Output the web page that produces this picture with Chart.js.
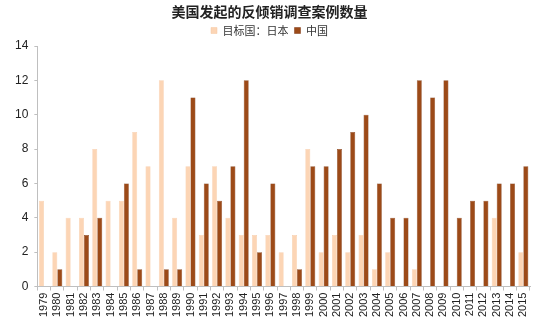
<!DOCTYPE html>
<html>
<head>
<meta charset="utf-8">
<script src="https://cdn.jsdelivr.net/npm/chart.js@4"></script>
<style>
  html,body{margin:0;padding:0;background:#fff;}
  #wrap{width:550px;height:326px;position:relative;}
</style>
</head>
<body>
<div id="wrap"><canvas id="chart"></canvas></div>
<script>
// Anti-dumping cases initiated by the US, per year
const years=['1979','1980','1981','1982','1983','1984','1985','1986','1987','1988','1989','1990','1991','1992','1993','1994','1995','1996','1997','1998','1999','2000','2001','2002','2003','2004','2005','2006','2007','2008','2009','2010','2011','2012','2013','2014','2015'];
const japan=[5,2,4,4,8,5,5,9,7,12,4,7,3,7,4,3,3,3,2,3,8,2,3,2,3,1,2,0,1,0,0,0,0,0,4,0,2];
const china=[0,1,0,3,4,0,6,1,0,1,1,11,6,5,7,12,2,6,0,1,7,7,8,9,10,6,4,4,12,11,12,4,5,5,6,6,7];
const yTicks=[0,2,4,6,8,10,12,14];

const axisColor='#bfbfbf';
const ctx=document.getElementById('chart').getContext('2d');
new Chart(ctx,{
  type:'bar',
  data:{
    labels:years,
    datasets:[
      {label:'目标国：日本',data:japan,backgroundColor:'#fcd5b5',borderColor:'#f5c6a0',borderWidth:0.5,categoryPercentage:0.75,barPercentage:1},
      {label:'中国',data:china,backgroundColor:'#9c4a18',borderColor:'#7a3510',borderWidth:0.5,categoryPercentage:0.75,barPercentage:1}
    ]
  },
  options:{
    responsive:true,maintainAspectRatio:false,animation:false,
    layout:{padding:{left:9,right:20,top:0,bottom:7}},
    plugins:{
      title:{display:true,text:'美国发起的反倾销调查案例数量',color:'#222',
        font:{family:'"Noto Sans CJK SC"',size:14,weight:'bold',lineHeight:1},padding:{top:5,bottom:0}},
      legend:{display:true,position:'top',
        labels:{boxWidth:6,boxHeight:6,padding:6,color:'#333',font:{family:'"Noto Sans CJK SC"',size:11,lineHeight:1}}},
      tooltip:{enabled:false}
    },
    scales:{
      x:{
        grid:{display:true,drawOnChartArea:false,drawTicks:true,tickLength:4,color:axisColor,offset:true},
        border:{display:true,color:axisColor},
        ticks:{autoSkip:false,maxRotation:90,minRotation:90,color:'#222',padding:2,
          font:{family:'Arial, "Liberation Sans"',size:11}}
      },
      y:{
        min:0,max:14,
        afterBuildTicks:axis=>{axis.ticks=yTicks.map(v=>({value:v}));},
        // legend already leaves room above the top tick
        afterFit:axis=>{axis.paddingTop=0;},
        grid:{display:true,drawOnChartArea:false,drawTicks:true,tickLength:3,color:axisColor},
        border:{display:true,color:axisColor},
        ticks:{color:'#222',padding:6,font:{family:'Arial, "Liberation Sans"',size:12}}
      }
    }
  }
});
</script>
</body>
</html>
